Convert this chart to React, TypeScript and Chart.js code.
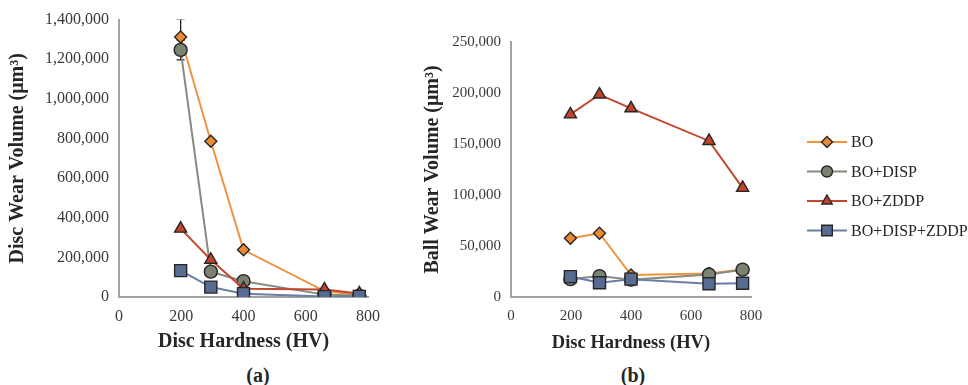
import React, { useEffect, useRef } from 'react';
import { Chart, registerables } from 'chart.js';

Chart.register(...registerables);

// ---- Data ----
const hardness = [198, 295, 400, 660, 772];
const seriesNames = ['BO', 'BO+DISP', 'BO+ZDDP', 'BO+DISP+ZDDP'];

const discBO = [1312000, 786000, 238000, 30000, 10000];
const discDISP = [1247000, 128000, 80000, 12000, 6000];
const discZDDP = [345000, 188000, 42000, 38000, 18000];
const discDISPZDDP = [133000, 50000, 17000, 2000, 3000];

const discErrBO = [90000, 0, 0, 0, 0];
const discErrDISP = [50000, 0, 0, 0, 0];
const discErrZDDP = [0, 0, 0, 0, 0];
const discErrDISPZDDP = [0, 0, 0, 0, 0];

const ballBO = [57500, 62500, 21500, 23000, 27000];
const ballDISP = [17500, 20500, 17000, 22000, 26800];
const ballZDDP = [179000, 198500, 185000, 153000, 107000];
const ballDISPZDDP = [20000, 14000, 17500, 13000, 13500];

const xTickStep = 200;
const discYMax = 1400000;
const discYStep = 200000;
const ballYMax = 250000;
const ballYStep = 50000;

// ---- Styles ----
const FONT = '"Liberation Serif", "Times New Roman", serif';
const seriesStyles = [
  { line: '#EE9440', fill: '#EC8A33', point: 'rectRot', r: 6, lr: 5.5 },
  { line: '#858B7F', fill: '#7A8272', point: 'circle', r: 6.5, lr: 5.5 },
  { line: '#C3472E', fill: '#C2432B', point: 'triangle', r: 7, lr: 6 },
  { line: '#6B7FA6', fill: '#586C93', point: 'rect', r: 8.5, lr: 7.5 },
];

function drawMarker(ctx: CanvasRenderingContext2D, style: string, x: number, y: number, r: number) {
  ctx.beginPath();
  if (style === 'circle') {
    ctx.arc(x, y, r, 0, Math.PI * 2);
  } else if (style === 'rectRot') {
    ctx.moveTo(x, y - r);
    ctx.lineTo(x + r, y);
    ctx.lineTo(x, y + r);
    ctx.lineTo(x - r, y);
    ctx.closePath();
  } else if (style === 'triangle') {
    ctx.moveTo(x, y - r);
    ctx.lineTo(x + r * Math.sin((2 * Math.PI) / 3), y + r * 0.5);
    ctx.lineTo(x - r * Math.sin((2 * Math.PI) / 3), y + r * 0.5);
    ctx.closePath();
  } else {
    const s = r * Math.SQRT1_2;
    ctx.rect(x - s, y - s, 2 * s, 2 * s);
  }
  ctx.fill();
  ctx.stroke();
}

const errorBarPlugin = {
  id: 'errorBars',
  beforeDatasetsDraw(chart: any, _args: any, opts: any) {
    const errs = opts && opts.errors;
    if (!errs) return;
    const { ctx, chartArea } = chart;
    const xs = chart.scales.x;
    const ys = chart.scales.y;
    ctx.save();
    ctx.beginPath();
    ctx.rect(chartArea.left, chartArea.top, chartArea.right - chartArea.left, chartArea.bottom - chartArea.top);
    ctx.clip();
    ctx.strokeStyle = '#1e1e1e';
    ctx.lineWidth = 1.3;
    chart.data.datasets.forEach((ds: any, i: number) => {
      const e = errs[i];
      if (!e) return;
      ds.data.forEach((p: any, j: number) => {
        const err = e[j];
        if (!err) return;
        const px = xs.getPixelForValue(p.x);
        const yTop = ys.getPixelForValue(p.y + err);
        const yBot = ys.getPixelForValue(p.y - err);
        ctx.beginPath();
        ctx.moveTo(px, yTop);
        ctx.lineTo(px, yBot);
        ctx.moveTo(px - 4, yTop);
        ctx.lineTo(px + 4, yTop);
        ctx.moveTo(px - 4, yBot);
        ctx.lineTo(px + 4, yBot);
        ctx.stroke();
      });
    });
    ctx.restore();
  },
};

const lineLegendPlugin = {
  id: 'lineLegend',
  afterDraw(chart: any, _args: any, opts: any) {
    if (!opts || !opts.display) return;
    const { ctx, chartArea } = chart;
    ctx.save();
    chart.data.datasets.forEach((ds: any, i: number) => {
      const st = seriesStyles[i];
      const y = opts.top + i * opts.spacing;
      const x0 = chartArea.right + opts.offset;
      const x1 = x0 + opts.lineLength;
      ctx.strokeStyle = ds.borderColor;
      ctx.lineWidth = 2;
      ctx.beginPath();
      ctx.moveTo(x0, y);
      ctx.lineTo(x1, y);
      ctx.stroke();
      ctx.fillStyle = st.fill;
      ctx.strokeStyle = '#262626';
      ctx.lineWidth = 1.4;
      drawMarker(ctx, st.point, (x0 + x1) / 2, y, st.lr);
      ctx.fillStyle = '#262626';
      ctx.font = `16px ${FONT}`;
      ctx.textBaseline = 'middle';
      ctx.textAlign = 'left';
      ctx.fillText(ds.label, x1 + 4, y + 1);
    });
    ctx.restore();
  },
};

function makeDatasets(values: number[][]) {
  return values.map((vals, i) => {
    const st = seriesStyles[i];
    return {
      label: seriesNames[i],
      data: hardness.map((h, j) => ({ x: h, y: vals[j] })),
      borderColor: st.line,
      backgroundColor: st.fill,
      borderWidth: 2,
      pointStyle: st.point,
      pointRadius: st.r,
      pointBackgroundColor: st.fill,
      pointBorderColor: '#262626',
      pointBorderWidth: 1.4,
      tension: 0,
      order: values.length - 1 - i,
    };
  });
}

function makeOptions(cfg: {
  yMax: number; yStep: number; yTitle: string; yWidth: number; yTitlePad: number;
  padRight: number; padTop: number; tickSize: number; xTitleSize: number; yTitleSize: number;
  errors?: number[][]; legend?: any;
}) {
  const tickColor = '#3a3a3a';
  const titleColor = '#262626';
  const axisBorder = { color: '#A3A3A3', width: 2 };
  return {
    responsive: false,
    animation: false,
    layout: { padding: { left: 0, right: cfg.padRight, top: cfg.padTop, bottom: 0 } },
    plugins: {
      legend: { display: false },
      tooltip: { enabled: false },
      errorBars: { errors: cfg.errors },
      lineLegend: cfg.legend || { display: false },
    },
    scales: {
      x: {
        type: 'linear',
        min: 0,
        max: 800,
        grid: { display: false, drawTicks: false },
        border: axisBorder,
        ticks: {
          stepSize: xTickStep,
          padding: 10,
          color: tickColor,
          font: { family: FONT, size: cfg.tickSize },
        },
        title: {
          display: true,
          text: 'Disc Hardness (HV)',
          color: titleColor,
          font: { family: FONT, size: cfg.xTitleSize, weight: 'bold' },
          padding: { top: 0, bottom: 6 },
        },
        afterFit(scale: any) {
          scale.height = 63;
        },
      },
      y: {
        type: 'linear',
        min: 0,
        max: cfg.yMax,
        grid: { display: false, drawTicks: false },
        border: axisBorder,
        ticks: {
          stepSize: cfg.yStep,
          padding: 10,
          color: tickColor,
          font: { family: FONT, size: cfg.tickSize },
          callback: (v: any) => Number(v).toLocaleString('en-US'),
        },
        title: {
          display: true,
          text: cfg.yTitle,
          color: titleColor,
          font: { family: FONT, size: cfg.yTitleSize, weight: 'bold' },
          padding: { top: cfg.yTitlePad, bottom: 0 },
        },
        afterFit(scale: any) {
          scale.width = cfg.yWidth;
        },
      },
    },
  };
}

function LineChart(props: { datasets: any[]; options: any; width: number; height: number; left: number }) {
  const ref = useRef<HTMLCanvasElement | null>(null);
  useEffect(() => {
    if (!ref.current) return;
    const chart = new Chart(ref.current, {
      type: 'line',
      data: { datasets: props.datasets },
      options: props.options,
      plugins: [errorBarPlugin, lineLegendPlugin],
    } as any);
    return () => chart.destroy();
  }, []);
  return (
    <canvas
      ref={ref}
      width={props.width}
      height={props.height}
      style={{ position: 'absolute', left: props.left, top: 0, width: props.width, height: props.height }}
    />
  );
}

export default function App() {
  const discDatasets = makeDatasets([discBO, discDISP, discZDDP, discDISPZDDP]);
  const ballDatasets = makeDatasets([ballBO, ballDISP, ballZDDP, ballDISPZDDP]);

  const discOptions = makeOptions({
    yMax: discYMax, yStep: discYStep, yTitle: 'Disc Wear Volume (μm³)', yWidth: 119, yTitlePad: 6,
    padRight: 32, padTop: 18, tickSize: 16, xTitleSize: 20, yTitleSize: 20,
    errors: [discErrBO, discErrDISP, discErrZDDP, discErrDISPZDDP],
  });
  const ballOptions = makeOptions({
    yMax: ballYMax, yStep: ballYStep, yTitle: 'Ball Wear Volume (μm³)', yWidth: 111, yTitlePad: 21,
    padRight: 217, padTop: 42, tickSize: 15, xTitleSize: 18.5, yTitleSize: 20,
    legend: { display: true, top: 142, spacing: 29.5, offset: 56, lineLength: 40 },
  });

  const capStyle: React.CSSProperties = {
    position: 'absolute', top: 363, width: 60, height: 24, lineHeight: '24px', textAlign: 'center',
    fontFamily: FONT, fontWeight: 'bold', fontSize: 20, color: '#262626',
  };

  return (
    <div style={{ position: 'absolute', left: 0, top: 0, width: 968, height: 385, background: '#fff', overflow: 'hidden' }}>
      <LineChart datasets={discDatasets} options={discOptions} width={400} height={360} left={0} />
      <LineChart datasets={ballDatasets} options={ballOptions} width={568} height={360} left={400} />
      <div style={{ ...capStyle, left: 228 }}>(a)</div>
      <div style={{ ...capStyle, left: 603 }}>(b)</div>
    </div>
  );
}
